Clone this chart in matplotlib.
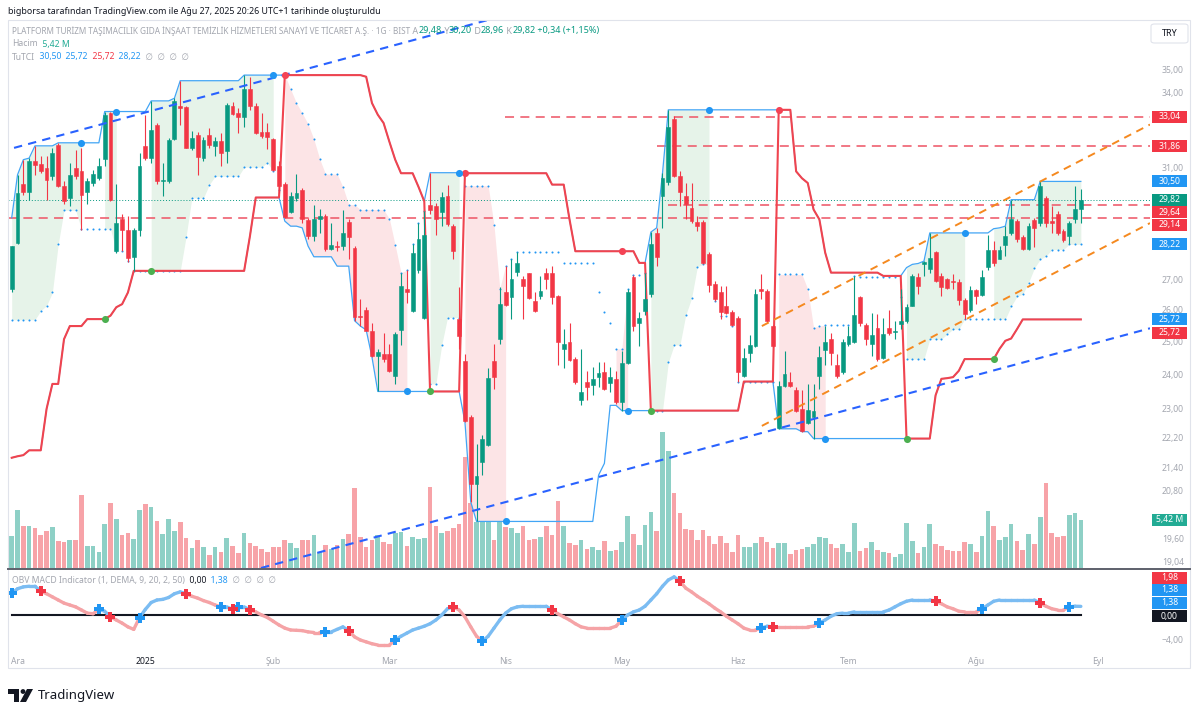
import numpy as np
import matplotlib
matplotlib.use("Agg")
import matplotlib.pyplot as plt
from matplotlib.collections import LineCollection
from matplotlib.patches import Rectangle, Polygon, Ellipse, FancyBboxPatch

plt.rcParams['font.family'] = ['Noto Sans', 'DejaVu Sans']

# daily bars, 29 Kas 2024 .. 27 Agu 2025
opens = [26.70, 28.28, 30.41, 30.09, 31.26, 31.17, 31.00, 30.69, 31.90, 30.34,
         29.88, 31.00, 30.88, 30.09, 30.44, 30.62, 31.35, 33.18, 27.98, 29.10,
         28.74, 27.79, 28.72, 31.87, 31.39, 32.70, 30.50, 30.53, 32.13, 33.48,
         33.45, 31.78, 32.30, 31.39, 32.30, 31.87, 32.08, 31.68, 33.48, 33.21,
         33.02, 34.18, 33.48, 32.43, 32.43, 32.13, 31.07, 30.41, 29.37, 29.88,
         30.19, 29.08, 28.51, 29.10, 29.22, 28.06, 28.16, 28.16, 29.01, 28.10,
         25.83, 26.03, 25.36, 24.58, 24.65, 24.65, 23.99, 25.39, 26.70, 26.00,
         27.34, 25.78, 29.64, 29.60, 29.37, 29.94, 28.86, 25.73, 24.44, 22.80,
         21.00, 21.56, 22.03, 24.44, 25.10, 26.59, 26.43, 27.27, 27.03, 27.25,
         26.32, 26.48, 27.25, 27.23, 26.46, 24.80, 25.02, 24.49, 23.27, 23.82,
         23.72, 23.95, 24.09, 23.78, 23.90, 23.24, 24.37, 27.12, 25.62, 26.00,
         26.53, 28.62, 29.94, 30.46, 32.94, 30.72, 29.97, 29.52, 29.01, 29.01,
         27.90, 26.87, 26.59, 26.14, 25.97, 25.78, 23.99, 24.67, 24.90, 26.70,
         26.65, 25.51, 22.49, 23.69, 23.82, 23.56, 23.03, 22.63, 22.80, 23.99,
         24.78, 25.12, 24.32, 24.11, 24.95, 25.02, 26.43, 25.54, 24.95, 25.46,
         24.52, 25.46, 25.33, 25.57, 25.68, 26.16, 27.12, 27.53, 27.38, 27.95,
         27.14, 27.03, 26.98, 26.95, 26.35, 26.03, 26.68, 26.50, 27.45, 28.01,
         27.72, 28.18, 28.60, 29.04, 28.48, 28.06, 29.08, 28.98, 29.88, 29.04,
         29.31, 28.68, 28.51, 29.10, 29.48]
highs = [28.16, 30.75, 31.33, 31.39, 31.87, 31.46, 31.46, 31.79, 31.99, 30.53,
         31.20, 31.71, 31.78, 30.62, 30.94, 31.39, 33.25, 33.25, 30.41, 29.31,
         29.22, 28.80, 31.58, 33.12, 33.69, 32.80, 31.20, 32.17, 33.80, 34.54,
         33.48, 32.46, 32.43, 32.24, 32.57, 32.21, 32.37, 33.62, 33.66, 33.39,
         34.78, 34.71, 33.60, 33.18, 32.78, 32.17, 31.26, 30.47, 30.12, 30.78,
         30.25, 29.16, 29.64, 29.48, 29.28, 28.98, 28.33, 29.46, 29.10, 28.16,
         26.37, 26.11, 25.62, 24.80, 25.28, 24.95, 25.32, 27.25, 27.33, 28.22,
         28.98, 29.40, 30.83, 29.70, 30.12, 30.38, 28.92, 26.76, 24.65, 22.85,
         22.06, 22.29, 24.21, 24.95, 26.76, 27.49, 27.70, 27.95, 27.14, 27.25,
         26.59, 27.14, 27.42, 27.49, 26.50, 25.41, 25.62, 24.55, 24.80, 24.14,
         24.24, 24.41, 24.39, 24.24, 24.14, 24.75, 26.70, 27.16, 25.95, 27.25,
         28.65, 28.80, 30.81, 33.32, 33.05, 30.88, 30.44, 30.44, 29.22, 29.08,
         27.95, 26.98, 26.81, 26.81, 26.03, 25.83, 24.82, 25.22, 26.70, 27.19,
         26.70, 25.54, 23.85, 24.75, 24.09, 23.66, 23.56, 23.75, 23.75, 24.90,
         25.51, 25.28, 24.65, 25.10, 25.51, 27.14, 26.48, 25.60, 25.92, 25.89,
         25.78, 26.03, 25.68, 26.70, 26.21, 27.19, 27.25, 27.64, 28.62, 27.98,
         27.25, 27.08, 27.19, 27.03, 26.40, 26.81, 26.72, 27.33, 28.53, 28.33,
         28.16, 28.86, 29.82, 29.12, 28.53, 28.98, 29.16, 30.50, 29.94, 29.58,
         29.40, 28.77, 29.04, 30.31, 30.20]
lows = [26.60, 28.22, 30.00, 29.82, 30.75, 30.81, 29.82, 30.56, 30.30, 29.67,
        29.58, 30.58, 28.74, 29.67, 30.34, 30.56, 31.09, 29.76, 27.93, 27.98,
        27.61, 27.31, 28.51, 31.33, 31.20, 30.41, 29.94, 30.44, 32.11, 32.70,
        31.78, 31.71, 30.75, 31.26, 31.78, 31.46, 31.07, 31.20, 33.12, 32.39,
        32.63, 33.32, 32.34, 32.17, 31.75, 30.88, 30.06, 29.17, 29.34, 29.76,
        28.98, 28.39, 28.33, 28.62, 27.98, 28.04, 27.98, 28.04, 27.72, 25.68,
        25.51, 25.39, 24.55, 23.53, 24.39, 24.09, 23.75, 24.92, 26.26, 25.95,
        27.25, 25.73, 29.28, 28.53, 28.88, 28.86, 27.70, 24.80, 22.66, 20.53,
        20.04, 21.22, 22.01, 23.61, 24.95, 26.14, 25.73, 27.14, 25.73, 26.37,
        25.95, 26.37, 26.70, 26.21, 24.32, 24.21, 24.44, 23.75, 23.13, 23.27,
        23.42, 23.66, 23.56, 23.52, 23.18, 22.98, 24.34, 25.36, 24.90, 25.86,
        26.43, 27.47, 28.80, 30.38, 30.66, 29.58, 29.10, 28.98, 28.68, 27.53,
        26.59, 26.32, 25.73, 25.89, 25.51, 23.82, 23.95, 24.39, 24.85, 26.37,
        25.62, 24.85, 22.47, 23.66, 23.66, 22.94, 22.39, 22.61, 22.20, 23.61,
        24.32, 24.32, 23.92, 24.04, 24.88, 24.98, 25.51, 24.92, 24.59, 24.44,
        24.49, 25.22, 25.10, 25.41, 25.62, 26.14, 26.53, 27.14, 27.25, 26.95,
        26.48, 26.70, 26.70, 26.18, 25.73, 25.97, 26.21, 26.46, 27.33, 27.49,
        27.70, 27.81, 28.53, 28.30, 28.01, 28.01, 28.14, 28.86, 28.84, 28.62,
        28.56, 28.30, 28.22, 28.98, 28.96]
closes = [28.15, 30.08, 30.09, 31.26, 31.13, 30.88, 30.56, 31.58, 30.34, 29.76,
          30.75, 30.69, 30.00, 30.50, 30.78, 31.09, 33.11, 29.82, 28.98, 28.74,
          27.76, 28.74, 31.09, 31.39, 32.50, 30.50, 30.56, 32.11, 33.70, 33.39,
          31.78, 32.17, 31.43, 32.11, 31.91, 32.08, 31.60, 33.53, 33.15, 33.02,
          34.18, 33.48, 32.37, 32.26, 32.24, 30.94, 30.31, 29.20, 29.94, 30.06,
          29.10, 28.51, 29.10, 29.22, 28.06, 28.18, 28.12, 28.60, 28.48, 25.81,
          25.81, 25.36, 24.59, 24.72, 24.49, 24.14, 25.25, 26.81, 26.62, 27.93,
          28.39, 28.53, 29.46, 29.10, 29.92, 28.92, 27.98, 25.20, 22.70, 21.00,
          21.20, 22.20, 23.92, 23.95, 26.21, 26.18, 27.05, 27.56, 26.81, 26.40,
          26.00, 26.65, 27.05, 26.43, 25.00, 24.95, 24.46, 23.82, 23.52, 23.66,
          23.90, 24.07, 23.61, 23.95, 23.22, 24.37, 26.59, 25.51, 25.75, 26.37,
          28.22, 27.79, 30.62, 32.63, 30.69, 30.12, 29.67, 29.04, 28.86, 27.58,
          26.83, 26.37, 25.95, 25.92, 25.54, 24.09, 24.52, 24.92, 26.53, 26.65,
          25.68, 24.88, 23.69, 24.04, 23.69, 22.98, 22.42, 23.01, 22.98, 24.55,
          25.00, 24.68, 23.99, 25.00, 25.19, 25.86, 25.60, 25.10, 25.22, 24.49,
          25.25, 25.28, 25.36, 25.68, 26.11, 27.14, 26.81, 27.61, 27.76, 26.98,
          26.76, 26.73, 26.95, 26.35, 25.89, 26.68, 26.48, 27.12, 28.04, 27.56,
          28.01, 28.51, 29.10, 28.39, 28.06, 28.88, 28.80, 30.34, 28.96, 28.96,
          28.60, 28.36, 28.98, 29.48, 29.82]
volume_m = [3.61, 6.54, 4.74, 4.74, 4.55, 3.72, 4.17, 4.66, 3.05, 2.97,
            3.16, 3.16, 8.23, 2.48, 2.48, 1.84, 4.96, 7.29, 5.49, 3.72,
            3.98, 3.23, 6.54, 7.22, 6.84, 5.30, 3.80, 5.53, 4.17, 5.23,
            3.35, 2.22, 3.16, 2.41, 1.47, 2.33, 1.84, 3.35, 2.48, 1.65,
            3.98, 2.78, 2.48, 2.11, 1.77, 2.41, 2.33, 3.16, 2.78, 2.22,
            3.16, 3.16, 3.72, 1.84, 2.59, 2.11, 2.59, 3.23, 3.83, 9.06,
            3.53, 2.33, 3.16, 3.72, 2.97, 2.71, 3.98, 4.10, 2.48, 3.53,
            3.23, 3.35, 9.10, 4.74, 3.91, 4.21, 4.55, 4.92, 12.56, 7.37,
            5.23, 5.23, 5.23, 3.16, 6.43, 4.66, 4.47, 3.98, 4.74, 3.16,
            3.23, 3.53, 4.74, 3.72, 7.59, 4.74, 2.86, 2.59, 3.16, 2.11,
            2.41, 2.03, 3.08, 1.92, 2.03, 2.97, 5.86, 3.83, 2.59, 4.85,
            6.32, 4.21, 15.38, 13.20, 8.42, 6.17, 4.36, 4.29, 3.16, 4.29,
            3.61, 2.71, 3.61, 2.78, 1.84, 3.72, 2.41, 2.41, 2.78, 3.53,
            2.97, 2.22, 2.78, 2.86, 1.58, 2.03, 2.11, 2.33, 2.71, 3.46,
            3.35, 2.71, 2.22, 2.71, 1.84, 5.04, 1.95, 2.22, 2.97, 2.03,
            1.84, 1.73, 1.28, 1.58, 5.04, 3.05, 1.73, 2.41, 4.96, 2.71,
            2.48, 2.03, 1.95, 1.95, 2.89, 2.67, 1.77, 3.61, 6.47, 4.74,
            3.16, 3.53, 4.96, 3.05, 2.03, 3.80, 2.71, 5.79, 9.62, 3.91,
            3.53, 3.61, 5.98, 6.17, 5.42]

# TuTCI lines
upper_band = [29.16, 30.75, 31.33, 31.39, 31.87, 31.87, 31.87, 31.87, 31.99, 31.99,
              31.99, 31.99, 31.99, 31.99, 31.99, 31.99, 33.25, 33.25, 33.25, 33.25,
              33.25, 33.25, 33.25, 33.25, 33.69, 33.69, 33.69, 33.69, 33.80, 34.54,
              34.54, 34.54, 34.54, 34.54, 34.54, 34.54, 34.54, 34.54, 34.54, 34.54,
              34.78, 34.78, 34.78, 34.78, 34.78, 34.78, 34.78, 34.78, 34.78, 34.78,
              34.78, 34.78, 34.78, 34.78, 34.78, 34.78, 34.78, 34.78, 34.78, 34.78,
              34.78, 34.71, 33.60, 33.12, 32.78, 32.03, 31.33, 30.81, 30.81, 30.81,
              30.30, 29.76, 30.83, 30.83, 30.83, 30.83, 30.83, 30.83, 30.81, 30.81,
              30.81, 30.81, 30.81, 30.81, 30.81, 30.81, 30.81, 30.81, 30.81, 30.81,
              30.81, 30.81, 30.81, 30.38, 30.38, 30.38, 29.10, 27.98, 27.98, 27.98,
              27.98, 27.98, 27.98, 27.98, 27.98, 27.98, 27.98, 27.98, 27.58, 27.58,
              28.65, 28.80, 30.81, 33.32, 33.32, 33.32, 33.32, 33.32, 33.32, 33.32,
              33.32, 33.32, 33.32, 33.32, 33.32, 33.32, 33.32, 33.32, 33.32, 33.32,
              33.32, 33.32, 33.32, 33.32, 33.32, 30.88, 30.62, 30.44, 29.46, 29.10,
              27.93, 27.25, 27.25, 27.25, 27.25, 27.25, 27.25, 27.25, 27.25, 27.25,
              27.14, 27.14, 27.14, 27.14, 27.42, 27.53, 27.56, 27.64, 28.62, 28.62,
              28.62, 28.62, 28.62, 28.62, 28.62, 28.62, 28.62, 28.62, 28.62, 28.77,
              28.80, 28.86, 29.82, 29.82, 29.82, 29.82, 29.82, 30.50, 30.50, 30.50,
              30.50, 30.50, 30.50, 30.50, 30.50]
lower_band = [21.68, 21.72, 21.75, 21.88, 21.88, 21.88, 23.03, 23.75, 23.75, 25.10,
              25.51, 25.51, 25.51, 25.73, 25.73, 25.73, 25.73, 25.84, 26.11, 26.21,
              26.59, 27.31, 27.31, 27.31, 27.31, 27.31, 27.31, 27.31, 27.31, 27.31,
              27.31, 27.31, 27.31, 27.31, 27.31, 27.31, 27.31, 27.31, 27.31, 27.31,
              27.31, 28.51, 29.90, 29.90, 29.90, 29.90, 29.90, 29.04, 28.86, 28.86,
              28.80, 28.16, 27.79, 27.79, 27.79, 27.79, 27.47, 27.47, 27.47, 25.68,
              25.51, 25.39, 24.55, 23.53, 23.53, 23.53, 23.53, 23.53, 23.53, 23.53,
              23.53, 23.53, 23.53, 23.53, 23.53, 23.53, 23.53, 23.53, 22.66, 20.53,
              20.04, 20.04, 20.04, 20.04, 20.04, 20.04, 20.04, 20.04, 20.04, 20.04,
              20.04, 20.04, 20.04, 20.04, 20.04, 20.04, 20.04, 20.04, 20.04, 20.04,
              20.04, 21.22, 21.53, 23.13, 23.13, 22.98, 22.98, 22.98, 22.98, 22.98,
              22.98, 22.98, 22.98, 22.98, 22.98, 22.98, 22.98, 22.98, 22.98, 22.98,
              22.98, 22.98, 22.98, 22.98, 22.98, 22.98, 23.82, 23.82, 23.82, 23.82,
              23.82, 23.82, 22.47, 22.47, 22.47, 22.47, 22.39, 22.39, 22.20, 22.20,
              22.20, 22.20, 22.20, 22.20, 22.20, 22.20, 22.20, 22.20, 22.20, 22.20,
              22.20, 22.20, 22.20, 22.20, 22.20, 22.20, 22.20, 22.20, 22.20, 23.42,
              23.90, 23.92, 23.95, 24.14, 24.49, 24.49, 24.49, 24.49, 24.49, 24.49,
              24.80, 25.05, 25.12, 25.41, 25.72, 25.72, 25.72, 25.72, 25.72, 25.72,
              25.72, 25.72, 25.72, 25.72, 25.72]
exit_line = [25.71, 25.71, 25.71, 25.71, 25.71, 26.00, 26.16, 26.59, 28.22, 29.43,
             29.43, 29.43, 28.76, 28.76, 28.76, 28.76, 28.76, 28.76, 27.98, 27.98,
             27.64, 27.31, 27.31, 27.31, 27.31, 27.31, 27.31, 27.31, 27.31, 27.31,
             28.48, 29.88, 29.88, 29.88, 30.38, 30.69, 30.69, 30.69, 30.69, 30.69,
             31.04, 31.04, 31.04, 31.04, 31.22, 30.88, 30.19, 34.78, 34.18, 33.60,
             33.18, 32.74, 32.13, 31.36, 30.78, 30.78, 30.78, 30.29, 29.64, 29.64,
             29.46, 29.46, 29.46, 29.46, 29.46, 29.12, 28.18, 27.25, 27.33, 28.22,
             28.98, 29.40, 23.75, 23.75, 24.92, 25.78, 25.78, 25.78, 30.34, 30.34,
             30.34, 30.34, 30.34, 28.90, 26.72, 27.49, 27.70, 27.95, 27.95, 27.95,
             27.95, 27.95, 27.95, 27.95, 27.95, 27.56, 27.56, 27.56, 27.56, 27.56,
             27.56, 26.59, 25.95, 25.62, 24.80, 24.80, 26.70, 27.16, 27.16, 27.25,
             22.98, 22.98, 22.98, 24.39, 24.92, 24.92, 25.86, 26.40, 27.45, 27.53,
             27.53, 26.32, 25.84, 25.84, 25.51, 23.82, 23.82, 23.82, 23.82, 23.82,
             23.82, 23.82, 27.19, 27.19, 27.19, 27.19, 27.19, 26.70, 25.46, 25.51,
             25.54, 25.54, 25.54, 25.54, 25.54, 27.14, 27.12, 27.12, 27.12, 27.12,
             27.12, 27.12, 27.12, 26.43, 24.49, 24.49, 24.49, 24.49, 25.10, 25.10,
             25.10, 25.26, 25.41, 25.41, 25.73, 25.73, 25.73, 25.73, 25.73, 25.73,
             25.73, 25.73, 26.14, 26.46, 26.53, 26.92, 27.40, 27.70, 27.81, 28.04,
             28.04, 28.04, 28.22, 28.22, 28.22]
# (first bar, last bar, +1 long / -1 short)
trend_segments = [(0, 46, 1), (47, 71, -1), (72, 77, 1), (78, 109, -1),
                  (110, 131, 1), (132, 153, -1), (154, 184, 1)]
fill_segments = [(0, 12, 1), (16, 18, 1), (24, 45, 1), (47, 68, -1), (72, 77, 1),
                 (78, 85, -1), (104, 106, -1), (110, 120, 1), (132, 140, -1),
                 (154, 164, 1), (169, 184, 1)]
long_start = [16, 24, 72, 110, 154, 169]
short_start = [47, 78, 105, 132]
long_end = [12, 18, 45, 77, 120, 164]
short_end = [68, 85, 106, 140]

# OBV MACD indicator line
obv_macd = [3.5, 4.2, 4.5, 4.6, 4.6, 3.8, 3.4, 2.9, 2.4, 1.9,
            1.6, 1.3, 0.8, 0.3, 0.2, 0.9, 0.6, -0.3, -0.8, -1.3,
            -1.9, -2.3, -0.4, 0.9, 2.0, 2.4, 2.5, 2.8, 3.4, 3.7,
            3.4, 3.0, 2.7, 2.3, 2.0, 1.6, 1.3, 1.3, 0.9, 1.3,
            1.3, 0.8, 0.5, 0.0, -0.4, -1.0, -1.6, -2.1, -2.4, -2.45,
            -2.5, -2.7, -2.8, -2.8, -2.7, -2.7, -2.3, -1.9, -2.5, -3.5,
            -4.0, -4.3, -4.6, -4.8, -4.8, -4.8, -4.0, -3.4, -2.9, -2.4,
            -2.1, -1.8, -1.4, -0.8, 0.0, 1.0, 1.3, 0.8, -0.3, -1.9,
            -3.4, -4.2, -3.4, -2.1, -0.8, 0.3, 1.0, 1.3, 1.4, 1.4,
            1.4, 1.4, 1.4, 0.8, 0.2, -0.3, -0.8, -1.4, -1.9, -2.1,
            -2.1, -2.1, -2.1, -2.1, -1.8, -0.8, 0.0, 0.5, 0.8, 1.4,
            2.4, 3.4, 4.6, 5.6, 6.1, 5.4, 4.3, 3.7, 3.0, 2.4,
            1.8, 1.1, 0.5, -0.2, -0.8, -1.4, -2.1, -2.4, -2.4, -2.1,
            -1.8, -1.9, -1.9, -1.9, -1.9, -1.9, -1.9, -1.9, -1.8, -1.3,
            -0.8, -0.2, 0.2, 0.3, 0.3, 0.5, 0.5, 0.5, 0.5, 0.5,
            0.5, 0.8, 1.3, 1.8, 2.2, 2.4, 2.4, 2.4, 2.4, 2.2,
            1.8, 1.3, 1.0, 0.6, 0.5, 0.5, 0.5, 1.0, 1.6, 2.2,
            2.4, 2.4, 2.4, 2.4, 2.4, 2.4, 2.4, 1.9, 1.4, 1.0,
            0.8, 0.8, 1.3, 1.4, 1.38]
obv_up_marks = [0, 15, 22, 36, 39, 54, 66, 81, 105, 129, 139, 167, 182]
obv_down_marks = [5, 17, 30, 38, 41, 58, 76, 93, 115, 131, 159, 177]

# drawings: ((bar0, price0), (bar1, price1))
blue_trend_lines = [((0.4, 31.79), (83.2, 37.32)), ((42.9, 18.92), (195.9, 25.44))]
orange_channel = [((129.1, 25.51), (195.9, 32.72)), ((129.1, 22.55), (195.9, 28.97))]
h_levels = [(33.04, 84.9), (31.86, 111.0), (29.64, 113.0), (29.14, -0.6)]

price_ticks = [35, 34, 31, 27, 26, 25, 24, 23, 22.2, 21.4, 20.8, 19.6, 19.04]
month_labels = ['Ara', '2025', 'Şub', 'Mar', 'Nis', 'May', 'Haz', 'Tem', 'Ağu', 'Eyl']
month_bars = [1, 23, 45, 65, 85, 105, 125, 144, 166, 187]

GREEN = '#089981'
RED = '#F23645'
BLUE = '#2196F3'
GRAY = '#A3A6AF'
DARK = '#131722'

W, H = 1200, 718
fig = plt.figure(figsize=(W / 100, H / 100), dpi=100)
fig.patch.set_facecolor('white')


def rect(x0, y0, x1, y1):
    return [x0 / W, 1 - y1 / H, (x1 - x0) / W, (y1 - y0) / H]


XLIM = (-0.64, 195.9)
axv = fig.add_axes(rect(8, 20, 1150, 568), label='vol')
ax = fig.add_axes(rect(8, 20, 1150, 568), label='price')
axo = fig.add_axes(rect(8, 570, 1150, 655), label='obv')
ax.set_yscale('log')
for a in (axv, ax, axo):
    a.set_xlim(*XLIM)
    a.set_axis_off()
ax.set_ylim(18.92, 37.23)
axv.set_ylim(0, 61.85)
axo.set_ylim(-6.4, 7.2)

n = len(closes)
bars = np.arange(n)
o, h, l, c = map(np.array, (opens, highs, lows, closes))
upper = np.array(upper_band)
lower = np.array(lower_band)
ex = np.array(exit_line)
rising = c >= o

# volume
vcol = np.where(rising, '#8ED0C6', '#F7A3A8')
axv.bar(bars, volume_m, width=0.8, color=vcol, zorder=1)

# TuTCI fills
for s, e, side in fill_segments:
    ref = upper[s:e + 1] if side > 0 else lower[s:e + 1]
    ax.fill_between(bars[s:e + 1], ref, ex[s:e + 1], lw=0, zorder=1,
                    color='#E6F3E9' if side > 0 else '#FCE4E6')

# horizontal levels and last price line
for lvl, start in h_levels:
    ax.plot([start, XLIM[1]], [lvl, lvl], color='#EE5C6C', lw=1.3,
            dashes=(5, 3.5), zorder=2, alpha=0.9)
ax.plot(XLIM, [closes[-1], closes[-1]], color=GREEN, lw=0.7, ls=(0, (1, 2)), zorder=2)

# trend drawings
for (b0, p0), (b1, p1) in blue_trend_lines:
    ax.plot([b0, b1], [p0, p1], color='#2962FF', lw=1.5, dashes=(4, 3), zorder=6)
for (b0, p0), (b1, p1) in orange_channel:
    ax.plot([b0, b1], [p0, p1], color='#F5891F', lw=1.4, dashes=(4, 3), zorder=6)

# channel lines
ax.plot(bars, upper, color='#42A5F5', lw=0.9, zorder=3)
ax.plot(bars, lower, color='#42A5F5', lw=0.9, zorder=3)
trend = np.empty(n)
for s, e, d in trend_segments:
    trend[s:e + 1] = lower[s:e + 1] if d > 0 else upper[s:e + 1]
ax.plot(bars, trend, color='#F0444F', lw=1.5, zorder=3.5)
ax.scatter(bars, ex, s=2.2, color=BLUE, lw=0, zorder=3)

# candles
col = np.where(rising, GREEN, RED)
ax.vlines(bars, l, h, colors=col, lw=0.8, zorder=4)
lo = np.minimum(o, c)
hi = np.maximum(o, c)
ax.bar(bars, hi - lo, bottom=lo, width=0.66, color=col, edgecolor=col, lw=0.4, zorder=5)

# signal dots
ax.scatter(long_start, lower[long_start], s=26, color='#4CAF50', zorder=7, lw=0)
ax.scatter(short_start, upper[short_start], s=26, color='#F44355', zorder=7, lw=0)
ax.scatter(long_end, upper[long_end], s=26, color=BLUE, zorder=7, lw=0)
ax.scatter(short_end, lower[short_end], s=26, color=BLUE, zorder=7, lw=0)

# OBV MACD pane
ov = np.array(obv_macd)
axo.plot([0, n - 1], [0, 0], color=DARK, lw=1.5, zorder=1)
state = 1
seg_cols = []
for i in range(n - 1):
    if i in obv_up_marks:
        state = 1
    elif i in obv_down_marks:
        state = -1
    seg_cols.append('#7BBCF2' if state > 0 else '#F5A3A6')
segs = [[(i, ov[i]), (i + 1, ov[i + 1])] for i in range(n - 1)]
axo.add_collection(LineCollection(segs, colors=seg_cols, lw=2.4, capstyle='round', zorder=2))
axo.scatter(obv_up_marks, ov[obv_up_marks], marker='P', s=42, color=BLUE, lw=0, zorder=3)
axo.scatter(obv_down_marks, ov[obv_down_marks], marker='P', s=42, color=RED, lw=0, zorder=3)

# price scale
FS = 6.2
for p in price_ticks:
    ax.text(1.0 + 12 / 1142, p, f'{p:.2f}'.replace('.', ','), transform=ax.get_yaxis_transform(),
            va='center', ha='left', fontsize=FS, color=GRAY, clip_on=False, zorder=1)
axo.text(1.0 + 12 / 1142, -4.0, '−4,00', transform=axo.get_yaxis_transform(),
         va='center', ha='left', fontsize=FS, color=GRAY, clip_on=False)


def tag(a, val, text, color, nudge=0):
    # value box on the right scale, pixel layout
    ypix = a.transData.transform((0, val))[1] - nudge
    fig.add_artist(Rectangle((1152, ypix - 6), 35, 12, transform=None, fc=color, ec='none', zorder=10))
    fig.text(1169.5 / W, ypix / H, text, ha='center', va='center', fontsize=FS, color='white', zorder=11)


tag(ax, 33.04, '33,04', RED)
tag(ax, 31.86, '31,86', RED)
tag(ax, 30.50, '30,50', BLUE)
tag(ax, 29.82, '29,82', GREEN)
tag(ax, 29.64, '29,64', RED, 7.5)
tag(ax, 29.14, '29,14', RED, 6.5)
tag(ax, 28.22, '28,22', BLUE)
tag(ax, 25.72, '25,72', BLUE)
tag(ax, 25.72, '25,72', RED, 13.5)
tag(axv, 5.42, '5,42 M', '#22AB94')
tag(axo, 1.98, '1,98', RED, -25)
tag(axo, 1.38, '1,38', BLUE, -16.5)
tag(axo, 1.38, '1,38', BLUE, -3.5)
tag(axo, 0.0, '0,00', DARK, 1)

# time axis
for lab, b in zip(month_labels, month_bars):
    axo.text(b, (655 - 661.5) / 85, lab, transform=axo.get_xaxis_transform(), ha='center',
             va='center', fontsize=FS, color=DARK if lab == '2025' else GRAY,
             fontweight='bold' if lab == '2025' else 'normal', clip_on=False)

# frame and separators
fig.add_artist(Rectangle((8 / W, 1 - 668 / H), 1182 / W, 648 / H, transform=fig.transFigure,
                         fill=False, ec='#E0E3EB', lw=0.8))
fig.add_artist(plt.Line2D([8 / W, 1190 / W], [1 - 568.5 / H] * 2, transform=fig.transFigure,
                          color='#5D606B', lw=1.4))
fig.add_artist(FancyBboxPatch((1151 / W, 1 - 43 / H), 37 / W, 19 / H, transform=fig.transFigure,
                              boxstyle='round,pad=0,rounding_size=0.003', fc='white',
                              ec='#E0E3EB', lw=0.8))
fig.text(1169.5 / W, 1 - 33.5 / H, 'TRY', ha='center', va='center', fontsize=6.5, color=DARK)

# text legends
renderer = fig.canvas.get_renderer()


def chain(x, y, parts, size=FS):
    for item in parts:
        s, colr = item[0], item[1]
        fs = item[2] if len(item) > 2 else size
        t = fig.text(x / W, 1 - y / H, s, color=colr, fontsize=fs, ha='left', va='center')
        x += t.get_window_extent(renderer=renderer).width


chain(8, 11, [('bigborsa tarafından TradingView.com ile Ağu 27, 2025 20:26 UTC+1 tarihinde oluşturuldu', DARK)], 6.4)
VS = 6.5
chain(12, 31, [('PLATFORM TURİZM TAŞIMACILIK GIDA İNŞAAT TEMİZLİK HİZMETLERİ SANAYİ VE TİCARET A.Ş. · 1G · BIST', GRAY, 5.95),
               (' A', GRAY, VS), ('29,48', GREEN, VS), (' Y', GRAY, VS), ('30,20', GREEN, VS), (' D', GRAY, VS),
               ('28,96', GREEN, VS), (' K', GRAY, VS), ('29,82', GREEN, VS), (' +0,34 (+1,15%)', GREEN, VS)])
chain(12, 44, [('Hacim', GRAY), ('  5,42 M', '#22AB94')])
chain(12, 57, [('TuTCI', GRAY), ('  30,50', BLUE), ('  25,72', BLUE), ('  25,72', RED), ('  28,22', BLUE),
               ('  ∅  ∅  ∅  ∅', GRAY)])
chain(12, 580.5, [('OBV MACD Indicator (1, DEMA, 9, 20, 2, 50)', GRAY), ('  0,00', DARK), ('  1,38', BLUE),
                  ('  ∅  ∅  ∅  ∅', GRAY)])


# TradingView logo
def P(x, y):
    return (x / W, 1 - y / H)


fig.add_artist(Polygon([P(8, 689), P(19, 689), P(19, 702), P(14, 702), P(14, 694), P(8, 694)],
                       closed=True, transform=fig.transFigure, fc=DARK, ec='none'))
fig.add_artist(Ellipse(P(23, 691.5), 4.8 / W, 4.8 / H, transform=fig.transFigure, fc=DARK, ec='none'))
fig.add_artist(Polygon([P(27, 689), P(33, 689), P(26, 702), P(20, 702)], closed=True,
                       transform=fig.transFigure, fc=DARK, ec='none'))
fig.text(38 / W, 1 - 695.5 / H, 'TradingView', fontsize=9.5, fontweight='bold', color=DARK,
         ha='left', va='center')

fig.savefig('out.png', dpi=100, facecolor='white')
